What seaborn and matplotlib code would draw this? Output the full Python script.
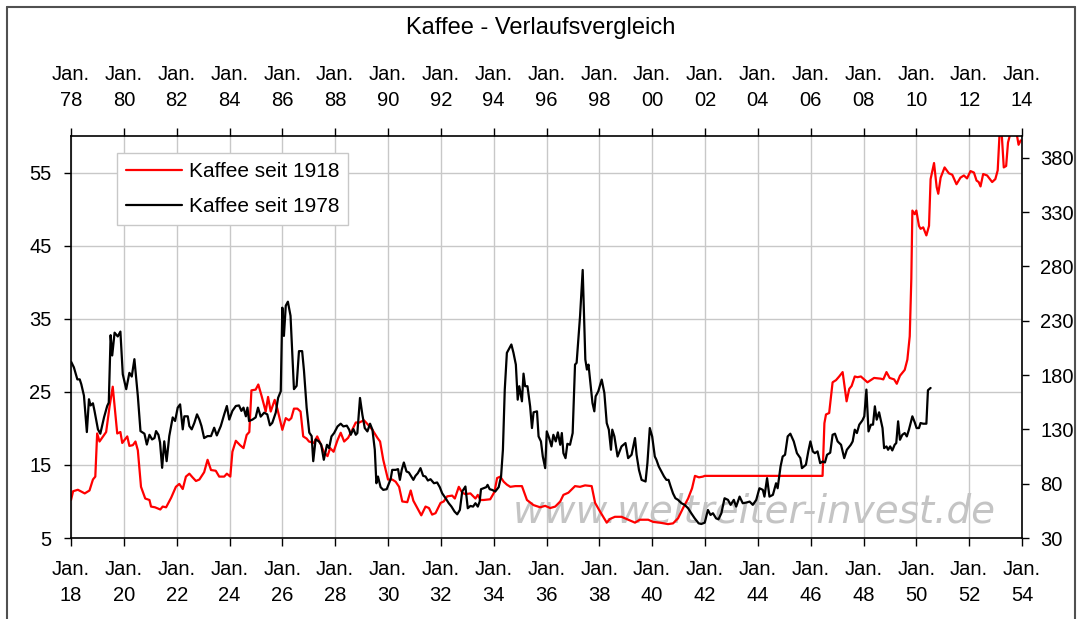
import numpy as np
import matplotlib.pyplot as plt
import seaborn as sns
import pandas as pd
sns.set_theme(style='white')
plt.rcParams['font.family'] = ['Liberation Sans', 'DejaVu Sans']
plt.rcParams['text.color'] = 'black'
plt.rcParams['xtick.color'] = 'black'
plt.rcParams['ytick.color'] = 'black'

# coffee since 1918 (left axis, bottom years)
red_year = [1918.00, 1918.08, 1918.26, 1918.52, 1918.70, 1918.83, 1918.92, 1918.99, 1919.08, 1919.33,
	1919.46, 1919.58, 1919.75, 1919.87, 1919.94, 1920.13, 1920.21, 1920.34, 1920.44, 1920.53,
	1920.65, 1920.81, 1920.97, 1921.03, 1921.18, 1921.38, 1921.47, 1921.60, 1921.79, 1921.97,
	1922.10, 1922.23, 1922.35, 1922.48, 1922.60, 1922.73, 1922.86, 1923.04, 1923.17, 1923.30,
	1923.48, 1923.61, 1923.80, 1923.90, 1924.03, 1924.11, 1924.24, 1924.40, 1924.53, 1924.65,
	1924.75, 1924.83, 1924.99, 1925.09, 1925.21, 1925.37, 1925.46, 1925.56, 1925.71, 1925.81,
	1926.00, 1926.13, 1926.25, 1926.34, 1926.44, 1926.57, 1926.69, 1926.79, 1926.92, 1927.01,
	1927.19, 1927.32, 1927.47, 1927.57, 1927.71, 1927.81, 1927.94, 1928.09, 1928.21, 1928.34,
	1928.49, 1928.62, 1928.78, 1928.91, 1929.09, 1929.22, 1929.41, 1929.60, 1929.70, 1929.82,
	1930.00, 1930.16, 1930.29, 1930.42, 1930.54, 1930.73, 1930.86, 1930.96, 1931.11, 1931.26,
	1931.42, 1931.55, 1931.67, 1931.80, 1931.99, 1932.11, 1932.24, 1932.43, 1932.53, 1932.68,
	1932.81, 1932.93, 1933.12, 1933.31, 1933.40, 1933.50, 1933.62, 1933.87, 1934.03, 1934.13,
	1934.25, 1934.38, 1934.50, 1934.63, 1934.82, 1935.07, 1935.26, 1935.51, 1935.76, 1935.95,
	1936.14, 1936.33, 1936.52, 1936.64, 1936.83, 1937.08, 1937.27, 1937.46, 1937.71, 1937.84,
	1938.03, 1938.28, 1938.40, 1938.59, 1938.84, 1939.09, 1939.35, 1939.53, 1939.85, 1940.04,
	1940.29, 1940.60, 1940.79, 1940.98, 1941.17, 1941.36, 1941.51, 1941.62, 1941.77, 1941.92,
	1941.99, 1946.45, 1946.52, 1946.58, 1946.70, 1946.83, 1946.96, 1947.08, 1947.21, 1947.36,
	1947.46, 1947.55, 1947.67, 1947.77, 1947.90, 1948.15, 1948.40, 1948.65, 1948.75, 1948.87,
	1948.99, 1949.16, 1949.26, 1949.38, 1949.56, 1949.66, 1949.75, 1949.81, 1949.85, 1949.94,
	1950.00, 1950.10, 1950.16, 1950.26, 1950.38, 1950.48, 1950.54, 1950.67, 1950.77, 1950.83,
	1950.92, 1951.07, 1951.23, 1951.36, 1951.52, 1951.67, 1951.80, 1951.92, 1952.05, 1952.18,
	1952.28, 1952.36, 1952.43, 1952.53, 1952.68, 1952.87, 1952.99, 1953.08, 1953.16, 1953.22,
	1953.31, 1953.40, 1953.47, 1953.57, 1953.69, 1953.79, 1953.87, 1953.95]
red_price = [10.2, 11.4, 11.6, 11.1, 11.5, 13.0, 13.4, 19.3, 18.2, 19.5,
	23.0, 25.7, 19.3, 19.5, 18.0, 18.9, 17.6, 17.7, 18.2, 17.0,
	12.0, 10.4, 10.2, 9.3, 9.2, 8.9, 9.3, 9.2, 10.5, 12.0,
	12.4, 11.7, 13.4, 13.8, 13.3, 12.8, 13.0, 14.0, 15.7, 14.3,
	14.2, 13.4, 13.4, 13.8, 13.4, 16.8, 18.3, 17.7, 17.3, 19.1,
	19.5, 25.2, 25.3, 26.0, 24.5, 22.3, 24.3, 22.3, 23.9, 22.7,
	19.8, 21.4, 21.1, 21.4, 22.7, 22.7, 22.3, 18.9, 18.6, 18.2,
	18.0, 18.9, 17.7, 16.8, 16.2, 17.3, 16.8, 18.4, 19.4, 18.2,
	18.7, 19.6, 20.8, 20.8, 21.1, 20.6, 19.8, 18.7, 18.2, 15.7,
	13.0, 13.0, 12.7, 12.0, 10.0, 9.9, 11.5, 10.1, 9.1, 8.1,
	9.3, 9.1, 8.2, 8.4, 9.8, 10.0, 10.7, 10.8, 10.4, 12.0,
	11.2, 11.0, 11.1, 10.4, 10.9, 10.2, 10.2, 10.3, 11.3, 13.2,
	13.4, 12.7, 12.3, 12.0, 12.1, 12.1, 10.2, 9.5, 9.2, 9.4,
	9.1, 9.3, 10.0, 10.9, 11.2, 12.1, 12.0, 12.2, 12.1, 9.8,
	8.6, 7.1, 7.6, 7.9, 7.9, 7.5, 7.1, 7.5, 7.5, 7.2,
	7.1, 6.9, 7.0, 7.7, 9.1, 10.4, 11.8, 13.5, 13.3, 13.4,
	13.5, 13.5, 20.7, 21.9, 22.1, 26.3, 26.6, 27.1, 27.7, 23.7,
	25.4, 25.8, 27.1, 27.0, 27.1, 26.3, 26.9, 26.8, 26.7, 27.7,
	26.9, 26.7, 26.1, 27.2, 28.0, 29.4, 32.6, 40.4, 49.8, 49.3,
	49.8, 47.7, 47.3, 47.5, 46.4, 47.7, 54.1, 56.3, 53.0, 52.1,
	54.3, 55.7, 54.9, 54.7, 53.4, 54.3, 54.6, 54.2, 55.2, 55.0,
	53.9, 53.7, 53.1, 54.8, 54.6, 53.7, 54.1, 55.3, 61.0, 61.0,
	55.7, 55.9, 59.1, 60.5, 61.0, 60.5, 58.8, 59.4]

# coffee since 1978 (right axis, top years)
black_year = [1978.01, 1978.11, 1978.24, 1978.33, 1978.39, 1978.49, 1978.60, 1978.68, 1978.74, 1978.83,
	1978.89, 1979.02, 1979.11, 1979.25, 1979.37, 1979.43, 1979.50, 1979.56, 1979.65, 1979.77,
	1979.87, 1979.96, 1980.09, 1980.21, 1980.30, 1980.40, 1980.53, 1980.63, 1980.78, 1980.87,
	1980.97, 1981.07, 1981.16, 1981.22, 1981.31, 1981.37, 1981.45, 1981.53, 1981.62, 1981.72,
	1981.85, 1981.94, 1982.04, 1982.13, 1982.23, 1982.29, 1982.42, 1982.48, 1982.57, 1982.67,
	1982.77, 1982.86, 1982.94, 1983.04, 1983.17, 1983.30, 1983.42, 1983.52, 1983.67, 1983.80,
	1983.90, 1983.99, 1984.11, 1984.24, 1984.36, 1984.45, 1984.53, 1984.62, 1984.68, 1984.74,
	1984.87, 1984.99, 1985.08, 1985.18, 1985.31, 1985.43, 1985.53, 1985.62, 1985.75, 1985.84,
	1985.94, 1986.00, 1986.06, 1986.13, 1986.21, 1986.31, 1986.44, 1986.54, 1986.63, 1986.75,
	1986.82, 1986.92, 1987.02, 1987.11, 1987.17, 1987.26, 1987.38, 1987.47, 1987.57, 1987.69,
	1987.77, 1987.86, 1987.96, 1988.09, 1988.21, 1988.31, 1988.44, 1988.53, 1988.59, 1988.69,
	1988.78, 1988.84, 1988.94, 1989.03, 1989.12, 1989.22, 1989.32, 1989.41, 1989.50, 1989.56,
	1989.62, 1989.72, 1989.82, 1989.95, 1990.04, 1990.10, 1990.16, 1990.29, 1990.38, 1990.45,
	1990.52, 1990.60, 1990.70, 1990.79, 1990.88, 1990.96, 1991.04, 1991.13, 1991.23, 1991.33,
	1991.42, 1991.51, 1991.61, 1991.74, 1991.86, 1991.96, 1992.05, 1992.18, 1992.30, 1992.40,
	1992.52, 1992.62, 1992.72, 1992.81, 1992.93, 1993.02, 1993.12, 1993.22, 1993.31, 1993.40,
	1993.47, 1993.52, 1993.62, 1993.72, 1993.77, 1993.85, 1993.94, 1994.06, 1994.19, 1994.28,
	1994.35, 1994.42, 1994.50, 1994.57, 1994.67, 1994.75, 1994.84, 1994.91, 1994.97, 1995.07,
	1995.13, 1995.19, 1995.28, 1995.38, 1995.45, 1995.51, 1995.64, 1995.70, 1995.79, 1995.86,
	1995.95, 1996.01, 1996.10, 1996.19, 1996.26, 1996.35, 1996.43, 1996.52, 1996.58, 1996.64,
	1996.72, 1996.79, 1996.89, 1996.99, 1997.08, 1997.14, 1997.27, 1997.37, 1997.47, 1997.53,
	1997.59, 1997.65, 1997.74, 1997.81, 1997.86, 1997.96, 1998.09, 1998.19, 1998.28, 1998.36,
	1998.44, 1998.49, 1998.57, 1998.69, 1998.84, 1998.99, 1999.09, 1999.22, 1999.35, 1999.41,
	1999.50, 1999.60, 1999.75, 1999.82, 1999.91, 2000.00, 2000.10, 2000.16, 2000.25, 2000.35,
	2000.45, 2000.54, 2000.62, 2000.70, 2000.79, 2000.88, 2000.98, 2001.11, 2001.23, 2001.36,
	2001.48, 2001.61, 2001.76, 2001.86, 2001.99, 2002.11, 2002.21, 2002.30, 2002.42, 2002.51,
	2002.62, 2002.74, 2002.87, 2002.97, 2003.09, 2003.18, 2003.31, 2003.43, 2003.56, 2003.69,
	2003.81, 2003.94, 2004.06, 2004.19, 2004.25, 2004.35, 2004.44, 2004.57, 2004.69, 2004.75,
	2004.86, 2004.94, 2005.03, 2005.13, 2005.23, 2005.36, 2005.48, 2005.61, 2005.67, 2005.82,
	2005.91, 2005.99, 2006.08, 2006.16, 2006.26, 2006.36, 2006.45, 2006.54, 2006.62, 2006.74,
	2006.83, 2006.92, 2007.02, 2007.15, 2007.27, 2007.37, 2007.52, 2007.59, 2007.67, 2007.75,
	2007.84, 2007.96, 2008.03, 2008.11, 2008.19, 2008.28, 2008.36, 2008.43, 2008.50, 2008.59,
	2008.72, 2008.78, 2008.87, 2008.93, 2009.01, 2009.09, 2009.18, 2009.24, 2009.31, 2009.38,
	2009.47, 2009.56, 2009.64, 2009.72, 2009.85, 2009.94, 2010.01, 2010.10, 2010.16, 2010.26,
	2010.38, 2010.44, 2010.54]
black_price = [192, 187, 176, 176, 171.5, 161, 127.5, 157.7, 152, 154,
	147, 130, 126, 141, 151.5, 154.6, 216.7, 198, 219, 215.5,
	220, 180.7, 167, 182, 178.6, 194.6, 160.7, 128.4, 126, 116,
	125, 120.7, 122, 128.4, 125, 118, 94.6, 119, 100.7, 123.8,
	141, 137.7, 150, 153, 130, 142, 142, 133, 130, 136,
	143.8, 139, 133, 122, 123.8, 123.8, 131.5, 124.4, 133, 143.8,
	151.5, 139, 147, 151.5, 152, 147, 150, 142, 150, 137.7,
	139, 141, 150, 141.7, 145.3, 143.8, 133.7, 136, 145.3, 159,
	165, 242, 216, 243.8, 247.5, 234.5, 167, 170, 202, 202,
	183.8, 150, 127, 123.8, 100.7, 120.7, 119, 116, 102, 115.8,
	112.7, 123.5, 126.6, 132.7, 135.2, 132.7, 133.4, 129.7, 125, 130.3,
	125, 126.6, 158.9, 143.5, 131.2, 128.1, 135.2, 129.7, 111.2, 80.4,
	86.6, 76.8, 74.3, 74.9, 80.4, 84.1, 92.7, 92.7, 93.4, 83.5,
	92.7, 99.5, 91.2, 90.3, 86.6, 83.5, 87.2, 89.7, 94.3, 87.2,
	86.6, 82.9, 84.1, 80.4, 81.1, 76.8, 71.2, 66.6, 62, 59,
	54.3, 51.8, 55.8, 72.8, 77.4, 57.4, 59.5, 58.9, 62, 58.9,
	63.5, 74.9, 75.8, 76.8, 78.9, 74.9, 74.3, 72.8, 76.8, 86.6,
	111.2, 166.6, 200.4, 203.5, 208.1, 200.4, 189.6, 157.3, 169.7, 155.8,
	181.3, 169.7, 169.7, 151.2, 131.2, 145.7, 146.6, 123.5, 118.9, 105,
	94.3, 128.1, 122, 114.3, 125, 118.9, 127.2, 115.8, 126.6, 108.1,
	103.5, 116.7, 115.8, 126.6, 189.6, 191.2, 234.2, 276.7, 194.3, 185,
	189.6, 175.8, 154.3, 146.6, 160.4, 165, 175.8, 163.5, 135.8, 129.7,
	111.2, 129.7, 123.5, 105, 114.3, 117.4, 103.5, 106.6, 122, 106.6,
	92.7, 83.5, 82, 98.9, 131.2, 123.5, 105, 102, 95.8, 91.2,
	86.6, 83.5, 83.5, 77.4, 71, 66.6, 65.1, 62, 60.5, 57.4,
	52.8, 48.1, 43.5, 42.9, 44.1, 55.8, 51.2, 52.8, 48.1, 47.2,
	52.8, 66.6, 65.1, 60.5, 65.1, 58.9, 68.1, 62, 62.6, 63.5,
	60.5, 65.1, 75.8, 74.3, 68.1, 85.1, 68.1, 69.7, 80.4, 75.8,
	95.8, 105, 106.6, 123.5, 126, 118.9, 108.1, 103.5, 94.3, 97.4,
	109.7, 118.9, 109.7, 108.1, 109.7, 98.9, 100.4, 99.5, 106.6, 108.5,
	125, 126, 118.9, 115.8, 103.5, 111.2, 115.8, 118.9, 129.7, 126.6,
	134.3, 138.3, 142, 166.6, 128.1, 134.3, 134.3, 151.2, 138.9, 145.7,
	131.2, 112.7, 114.3, 111.2, 114.3, 110.6, 115.8, 117.4, 137.4, 120.4,
	125, 126.6, 123.5, 129.7, 142, 136.4, 131.2, 131.2, 135.8, 135.2,
	135.2, 166, 168.1]

bottom_years = list(range(1918, 1955, 2))
top_years = list(range(1978, 2015, 2))
left_ticks = [5, 15, 25, 35, 45, 55]
right_ticks = [30, 80, 130, 180, 230, 280, 330, 380]

df_red = pd.DataFrame({"year": red_year, "price": red_price})
df_black = pd.DataFrame({"year": black_year, "price": black_price})

W, H = 1077, 619
fig = plt.figure(figsize=(W/100, H/100), dpi=100)
rect = [71/W, (H-538)/H, 951/W, 402/H]
ax = fig.add_axes(rect)
ax2 = fig.add_axes(rect, frameon=False)

sns.lineplot(data=df_red, x="year", y="price", color="#ff0000", lw=1.6, ax=ax, legend=False)
sns.lineplot(data=df_black, x="year", y="price", color="black", lw=1.6, ax=ax2, legend=False)

tick_fs = 14.5
ax.set(xlim=(1918, 1954), ylim=(5, 60), xlabel=None, ylabel=None)
ax.set_xticks(bottom_years)
ax.set_xticklabels(["Jan.\n%02d" % (y % 100) for y in bottom_years], linespacing=1.45)
ax.set_yticks(left_ticks)
ax.tick_params(axis='x', bottom=True, top=False, direction='out', length=6, width=1, pad=10, labelsize=tick_fs, color='black')
ax.tick_params(axis='y', left=True, right=False, direction='out', length=5, width=1, pad=9, labelsize=tick_fs, color='black')
ax.grid(True, color='#c8c8c8', lw=1.0)
for s in ax.spines.values():
	s.set_color('black')
	s.set_linewidth(1.2)

ax2.set(xlim=(1978, 2014), ylim=(30, 400), xlabel=None, ylabel=None)
ax2.xaxis.tick_top()
ax2.yaxis.tick_right()
ax2.set_xticks(top_years)
ax2.set_xticklabels(["Jan.\n%02d" % (y % 100) for y in top_years], linespacing=1.45)
ax2.set_yticks(right_ticks)
ax2.tick_params(axis='x', top=True, bottom=False, direction='out', length=6, width=1, pad=13, labelsize=tick_fs, color='black')
ax2.tick_params(axis='y', right=True, left=False, direction='out', length=5, width=1, pad=8, labelsize=tick_fs, color='black')
ax2.grid(False)

# watermark
ax.text(0.718, 0.065, "www.weltreiter-invest.de", transform=ax.transAxes, ha='center', va='center',
	fontsize=28, style='italic', color='#c4c4c4', family=['DejaVu Sans'], zorder=1.5)

handles = [ax.get_lines()[0], ax2.get_lines()[0]]
leg = ax2.legend(handles, ["Kaffee seit 1918", "Kaffee seit 1978"], loc='upper left',
	bbox_to_anchor=(0.048, 0.958), borderaxespad=0, fancybox=False, framealpha=1,
	edgecolor='#c8c8c8', fontsize=15, handlelength=2.7, handletextpad=0.3,
	labelspacing=0.75, borderpad=0.45)
leg.get_frame().set_linewidth(1.0)

fig.text(541/W, 1-28/H, "Kaffee - Verlaufsvergleich", ha='center', va='center', fontsize=17)

# outer frame
for xs, ys in [([7/W, 7/W], [0, 1-7/H]), ([7/W, 1075/W], [1-7/H, 1-7/H]), ([1075/W, 1075/W], [1-7/H, 0])]:
	fig.add_artist(plt.Line2D(xs, ys, transform=fig.transFigure, color='#505050', lw=1.5))

fig.savefig("out.png", dpi=100)
